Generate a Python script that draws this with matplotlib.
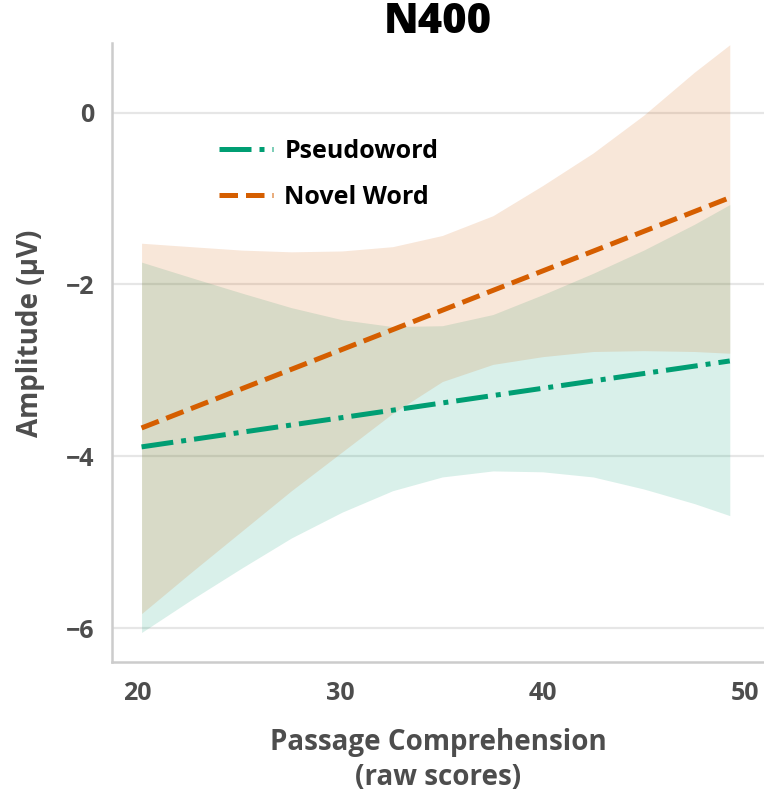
import matplotlib
matplotlib.use("Agg")
import matplotlib.pyplot as plt

plt.rcParams['font.family'] = ['Open Sans', 'DejaVu Sans']

# regression lines (end points)
line_x = [20.2, 49.25]
pseudo_line = [-3.89, -2.89]
novel_line = [-3.67, -0.99]

# confidence bands
band_x = [20.2, 22.65, 25.15, 27.6, 30.1, 32.6, 35.05, 37.55, 40.0, 42.5, 45.0, 47.5, 49.25]
pseudo_lo = [-6.05, -5.67, -5.30, -4.95, -4.65, -4.40, -4.24, -4.17, -4.18, -4.24, -4.38, -4.55, -4.69]
pseudo_hi = [-1.74, -1.92, -2.10, -2.27, -2.41, -2.49, -2.48, -2.35, -2.12, -1.87, -1.60, -1.30, -1.07]
novel_lo = [-5.83, -5.35, -4.87, -4.40, -3.95, -3.50, -3.13, -2.93, -2.84, -2.78, -2.77, -2.78, -2.80]
novel_hi = [-1.52, -1.56, -1.60, -1.62, -1.61, -1.56, -1.43, -1.20, -0.85, -0.47, -0.03, 0.47, 0.79]

y_ticks = [-6, -4, -2, 0]
x_ticks = [20, 30, 40, 50]

green = '#009E73'
orange = '#D55E00'
grey_txt = '#4d4d4d'

fig = plt.figure(figsize=(7.64, 8.01), dpi=100)
ax = fig.add_axes([0.1466, 0.1739, 0.8534, 0.7724])

ax.fill_between(band_x, pseudo_lo, pseudo_hi, color=green, alpha=0.15, lw=0)
ax.fill_between(band_x, novel_lo, novel_hi, color=orange, alpha=0.15, lw=0)
ax.plot(line_x, pseudo_line, color=green, lw=3.6, ls='-.', label='Pseudoword')
ax.plot(line_x, novel_line, color=orange, lw=3.6, ls='--', label='Novel Word')

ax.set_xlim(18.74, 50.94)
ax.set_ylim(-6.39, 0.81)
ax.set_xticks(x_ticks)
ax.set_yticks(y_ticks)
ax.set_yticklabels(['\u22126', '\u22124', '\u22122', '0'])
ax.grid(axis='y', color='#e6e6e6', lw=1.6)
ax.set_axisbelow(True)

for s in ['top', 'right']:
    ax.spines[s].set_visible(False)
for s in ['left', 'bottom']:
    ax.spines[s].set_color('#cccccc')
    ax.spines[s].set_linewidth(1.8)

ax.tick_params(axis='both', length=0, labelsize=18, labelcolor=grey_txt)
ax.tick_params(axis='x', pad=14)
ax.tick_params(axis='y', pad=13)
for lbl in ax.get_xticklabels() + ax.get_yticklabels():
    lbl.set_fontweight('bold')

ax.set_xlabel('Passage Comprehension\n(raw scores)', fontsize=20, fontweight='bold',
              color=grey_txt, labelpad=16, linespacing=1.25)
ax.set_ylabel('Amplitude (\u03bcV)', fontsize=20, fontweight='bold', color=grey_txt)
ax.yaxis.set_label_coords(-0.103, 0.53)
ax.set_title('N400', fontsize=30, fontweight='heavy', color='black', pad=2)

leg = ax.legend(loc='upper left', bbox_to_anchor=(0.13, 0.882), frameon=False,
                fontsize=18, handlelength=2.15, labelspacing=0.85, handletextpad=0.45)
for t in leg.get_texts():
    t.set_fontweight('bold')

fig.savefig('out.png', dpi=100)
